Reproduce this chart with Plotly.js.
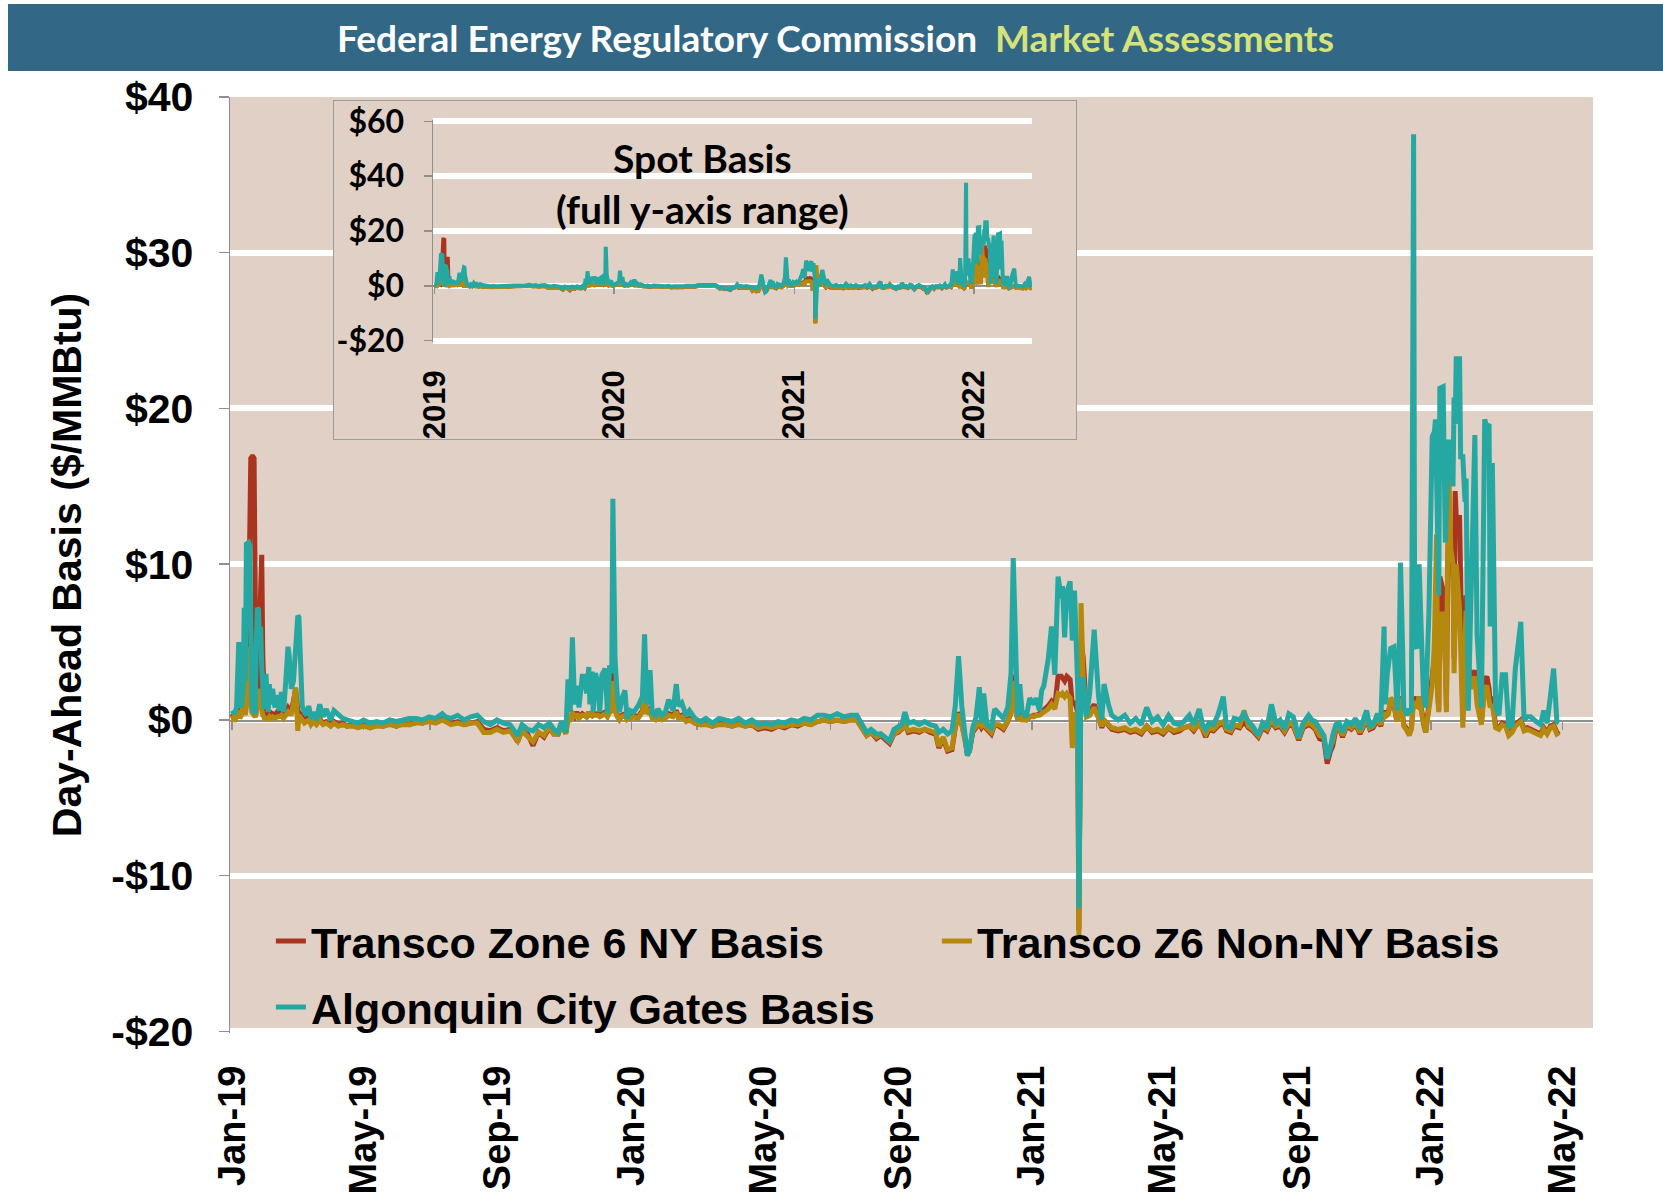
<!DOCTYPE html>
<html><head><meta charset="utf-8">
<script src="https://cdn.plot.ly/plotly-3.0.1.min.js"></script>
<style>
html,body{margin:0;padding:0;background:#fff;}
#wrap{position:relative;width:1663px;height:1201px;overflow:hidden;}
#main{position:absolute;left:0;top:0;width:1663px;height:1201px;}
#banner{position:absolute;left:8px;top:4px;width:1655px;height:67px;background:#326886;display:flex;align-items:center;justify-content:center;font-family:Lato,'Open Sans',sans-serif;font-weight:700;font-size:37px;white-space:pre;}
#inset{position:absolute;left:333px;top:100px;width:744px;height:340px;box-sizing:border-box;border:1.5px solid #9a9a9a;background:#E0D0C6;}
</style></head>
<body><div id="wrap"><div id="main"></div><div id="banner"><span style="color:#fff">Federal Energy Regulatory Commission</span><span style="color:#D6E27A">  Market Assessments</span></div><div id="inset"></div></div>
<script>
const dates = [
'2019-01-01','2019-01-03','2019-01-05','2019-01-07','2019-01-08','2019-01-09','2019-01-10','2019-01-11','2019-01-12','2019-01-13',
'2019-01-14','2019-01-15','2019-01-16','2019-01-17','2019-01-18','2019-01-19','2019-01-20','2019-01-21','2019-01-22','2019-01-23',
'2019-01-24','2019-01-25','2019-01-26','2019-01-27','2019-01-28','2019-01-29','2019-01-30','2019-01-31','2019-02-01','2019-02-02',
'2019-02-03','2019-02-04','2019-02-05','2019-02-07','2019-02-09','2019-02-11','2019-02-13','2019-02-15','2019-02-17','2019-02-19',
'2019-02-21','2019-02-22','2019-02-24','2019-02-26','2019-02-28','2019-03-02','2019-03-03','2019-03-04','2019-03-06','2019-03-08',
'2019-03-10','2019-03-12','2019-03-14','2019-03-16','2019-03-19','2019-03-22','2019-03-25','2019-03-28','2019-04-01','2019-04-04',
'2019-04-08','2019-04-12','2019-04-16','2019-04-21','2019-04-26','2019-05-01','2019-05-07','2019-05-13','2019-05-19','2019-05-25',
'2019-05-31','2019-06-06','2019-06-12','2019-06-18','2019-06-24','2019-06-30','2019-07-06','2019-07-12','2019-07-15','2019-07-20',
'2019-07-26','2019-08-01','2019-08-07','2019-08-13','2019-08-19','2019-08-25','2019-08-31','2019-09-06','2019-09-12','2019-09-19',
'2019-09-23','2019-09-28','2019-10-03','2019-10-08','2019-10-13','2019-10-18','2019-10-22','2019-10-26','2019-10-29','2019-11-02',
'2019-11-04','2019-11-06','2019-11-08','2019-11-10','2019-11-12','2019-11-14','2019-11-17','2019-11-19','2019-11-21','2019-11-23',
'2019-11-24','2019-11-26','2019-11-27','2019-11-29','2019-12-01','2019-12-03','2019-12-05','2019-12-08','2019-12-10','2019-12-12',
'2019-12-14','2019-12-15','2019-12-16','2019-12-17','2019-12-19','2019-12-21','2019-12-23','2019-12-26','2019-12-28','2019-12-31',
'2020-01-03','2020-01-07','2020-01-11','2020-01-13','2020-01-15','2020-01-18','2020-01-20','2020-01-23','2020-01-25','2020-01-29',
'2020-02-01','2020-02-04','2020-02-08','2020-02-11','2020-02-13','2020-02-16','2020-02-20','2020-02-23','2020-02-28','2020-03-04',
'2020-03-09','2020-03-15','2020-03-21','2020-03-27','2020-04-02','2020-04-08','2020-04-14','2020-04-20','2020-04-26','2020-05-02',
'2020-05-08','2020-05-14','2020-05-20','2020-05-26','2020-06-01','2020-06-07','2020-06-13','2020-06-19','2020-06-25','2020-07-01',
'2020-07-07','2020-07-13','2020-07-19','2020-07-25','2020-07-30','2020-08-03','2020-08-07','2020-08-12','2020-08-16','2020-08-20',
'2020-08-24','2020-08-28','2020-09-01','2020-09-04','2020-09-07','2020-09-10','2020-09-15','2020-09-20','2020-09-25','2020-09-30',
'2020-10-05','2020-10-08','2020-10-12','2020-10-16','2020-10-20','2020-10-23','2020-10-26','2020-10-29','2020-11-01','2020-11-03',
'2020-11-05','2020-11-08','2020-11-11','2020-11-14','2020-11-16','2020-11-18','2020-11-21','2020-11-25','2020-11-28','2020-12-02',
'2020-12-06','2020-12-10','2020-12-13','2020-12-15','2020-12-17','2020-12-19','2020-12-21','2020-12-23','2020-12-27','2020-12-30',
'2021-01-03','2021-01-05','2021-01-08','2021-01-10','2021-01-12','2021-01-16','2021-01-19','2021-01-22','2021-01-25','2021-01-28',
'2021-01-29','2021-01-31','2021-02-02','2021-02-05','2021-02-07','2021-02-09','2021-02-12','2021-02-13','2021-02-15','2021-02-17',
'2021-02-20','2021-02-23','2021-02-27','2021-03-03','2021-03-06','2021-03-08','2021-03-12','2021-03-15','2021-03-21','2021-03-27',
'2021-04-01','2021-04-06','2021-04-11','2021-04-16','2021-04-21','2021-04-26','2021-05-01','2021-05-06','2021-05-11','2021-05-16',
'2021-05-20','2021-05-25','2021-05-29','2021-06-03','2021-06-06','2021-06-09','2021-06-12','2021-06-16','2021-06-20','2021-06-25',
'2021-06-28','2021-07-02','2021-07-05','2021-07-10','2021-07-14','2021-07-18','2021-07-22','2021-07-27','2021-07-31','2021-08-04',
'2021-08-08','2021-08-12','2021-08-16','2021-08-20','2021-08-24','2021-08-28','2021-09-02','2021-09-06','2021-09-11','2021-09-14',
'2021-09-17','2021-09-21','2021-09-25','2021-09-28','2021-10-01','2021-10-03','2021-10-06','2021-10-09','2021-10-12','2021-10-16',
'2021-10-20','2021-10-24','2021-10-28','2021-11-01','2021-11-03','2021-11-06','2021-11-09','2021-11-13','2021-11-16','2021-11-19',
'2021-11-20','2021-11-22','2021-11-23','2021-11-25','2021-11-28','2021-11-30','2021-12-01','2021-12-03','2021-12-04','2021-12-06',
'2021-12-07','2021-12-10','2021-12-12','2021-12-14','2021-12-16','2021-12-17','2021-12-19','2021-12-21','2021-12-23','2021-12-25',
'2021-12-27','2021-12-30','2022-01-02','2022-01-04','2022-01-05','2022-01-06','2022-01-07','2022-01-08','2022-01-09','2022-01-12',
'2022-01-14','2022-01-15','2022-01-16','2022-01-17','2022-01-19','2022-01-21','2022-01-22','2022-01-23','2022-01-24','2022-01-27',
'2022-01-28','2022-01-30','2022-02-01','2022-02-02','2022-02-04','2022-02-07','2022-02-10','2022-02-12','2022-02-16','2022-02-19',
'2022-02-21','2022-02-23','2022-02-24','2022-02-26','2022-03-01','2022-03-04','2022-03-07','2022-03-10','2022-03-13','2022-03-16',
'2022-03-19','2022-03-24','2022-03-27','2022-03-30','2022-04-02','2022-04-07','2022-04-11','2022-04-14','2022-04-17','2022-04-20',
'2022-04-23','2022-04-26','2022-04-28'
];
// Transco Zone 6 NY basis ($/MMBtu)
const nyBasis = [
0.4,0.1,0.5,0.8,0.3,0.4,0.6,0.9,0.6,0.5,
1.5,2.2,6.5,16.6,16.8,16.9,16.9,16.8,2.0,0.5,
0.8,1.8,6.0,10.6,10.6,4.0,0.8,0.4,0.5,0.3,
0.4,0.6,0.3,0.4,0.3,0.5,0.4,0.5,0.3,0.6,
0.8,0.7,0.6,1.2,2.0,0.6,0.5,0.3,0.2,0.0,
0.1,0.2,-0.1,0.0,-0.2,0.1,-0.2,-0.1,-0.3,-0.1,
-0.3,-0.2,-0.4,-0.3,-0.4,-0.3,-0.5,-0.3,-0.4,-0.2,
-0.4,-0.2,-0.3,-0.1,-0.2,0.0,-0.1,0.1,0.0,-0.2,
-0.1,-0.3,-0.2,-0.1,-0.6,-0.7,-0.5,-0.7,-0.6,-1.4,
-0.6,-0.9,-1.65,-0.8,-1.1,-0.5,-0.9,-0.9,-0.3,-0.8,
0.2,0.1,0.4,0.2,0.5,0.2,0.4,0.3,0.2,0.5,
0.3,0.5,0.3,0.4,0.4,0.3,0.4,0.5,0.3,0.6,
0.8,3.5,2.0,0.8,0.3,0.2,0.3,0.4,0.1,0.2,
0.3,0.2,0.6,1.6,0.5,0.7,0.2,0.1,0.3,0.1,
0.2,0.4,0.3,0.6,0.2,0.3,0.0,0.1,-0.2,-0.3,
-0.2,-0.4,-0.2,-0.3,-0.4,-0.2,-0.4,-0.3,-0.6,-0.5,
-0.6,-0.4,-0.5,-0.3,-0.4,-0.2,-0.3,-0.1,0.0,-0.1,
0.0,-0.1,0.0,0.0,-0.5,-1.0,-0.8,-1.2,-1.0,-1.3,
-1.5,-0.9,-0.8,-0.6,-0.3,-0.8,-0.7,-0.8,-0.6,-0.8,
-0.9,-1.8,-1.2,-2.0,-1.9,-0.5,0.5,-0.3,-1.2,-2.2,
-2.0,-0.8,-0.5,-0.2,-0.5,-0.3,-0.6,-0.9,-0.3,-0.4,
-0.6,-0.1,0.5,2.9,1.0,0.0,0.4,0.1,0.0,0.2,
0.3,0.3,0.4,0.5,0.6,0.9,1.2,0.9,2.8,2.8,
2.7,2.5,2.8,2.6,1.0,1.2,0.5,-13.5,5.0,4.0,
0.3,0.5,1.0,0.2,-0.5,0.0,-0.4,-0.6,-0.7,-0.6,
-0.8,-0.7,-0.9,-0.4,-0.8,-0.7,-0.9,-0.5,-0.8,-0.7,
-0.5,-0.4,-0.7,-0.2,-0.6,-1.1,-0.6,-0.7,-0.4,-0.2,
-0.7,-0.8,-0.4,-0.5,-0.1,-0.5,-0.7,-1.1,-0.5,-0.7,
-0.1,-0.5,-0.4,-0.8,-0.3,-0.4,-1.3,-0.5,-0.3,-0.4,
-0.6,-1.2,-1.3,-2.8,-2.0,-1.7,-0.6,-0.5,-1.1,-0.4,
-0.6,-0.3,-0.9,-0.2,0.0,-0.6,-0.5,0.0,-0.4,0.6,
0.3,0.4,0.5,1.2,1.0,0.2,0.0,0.8,1.5,0.3,
-0.3,-0.6,-0.9,-0.5,1.5,1.2,1.0,1.5,0.6,-0.3,
-0.8,1.0,2.5,4.0,6.0,9.0,2.0,0.6,9.2,8.3,
4.0,0.8,8.0,12.0,12.0,10.5,4.0,14.7,13.0,13.0,
9.0,0.0,6.0,8.0,3.5,2.5,3.2,1.5,-0.2,2.5,
2.8,2.0,1.0,1.5,-0.4,-0.5,-0.2,-0.3,-0.9,-0.7,
-0.3,0.0,-0.6,-0.5,-0.6,-0.8,-0.9,-0.5,-0.8,-0.4,
-0.3,-0.8,-0.7
];
// Transco Z6 Non-NY basis ($/MMBtu)
const nonNyBasis = [
0.3,-0.1,0.2,0.6,0.1,0.2,0.4,2.6,0.5,0.3,
0.9,4.7,3.0,2.0,1.0,0.5,0.4,0.3,0.2,0.4,
1.2,2.0,1.5,1.0,0.6,0.3,0.2,0.0,0.2,0.0,
0.1,0.2,0.1,0.2,0.1,0.2,0.2,0.3,0.1,0.3,
0.5,0.4,0.4,1.0,2.1,-0.7,0.3,0.2,0.0,-0.2,
-0.1,0.0,-0.3,-0.1,-0.3,0.0,-0.3,-0.2,-0.4,-0.2,
-0.4,-0.3,-0.4,-0.4,-0.5,-0.4,-0.5,-0.4,-0.4,-0.3,
-0.4,-0.3,-0.3,-0.2,-0.2,-0.1,-0.2,0.0,-0.1,-0.3,
-0.2,-0.3,-0.2,-0.2,-0.8,-0.8,-0.6,-0.8,-0.7,-1.35,
-0.7,-1.0,-1.4,-0.8,-1.0,-0.4,-0.9,-0.9,-0.3,-0.9,
0.0,0.0,0.5,0.1,0.4,0.1,0.3,0.3,0.2,0.5,
0.2,0.4,0.3,0.3,0.3,0.2,0.3,0.4,0.2,0.5,
0.6,2.5,1.5,0.6,0.2,0.0,0.2,0.3,0.0,0.1,
0.2,0.1,0.5,1.5,0.4,0.6,0.1,0.0,0.2,0.0,
0.1,0.3,0.2,0.5,0.1,0.2,-0.1,0.0,-0.2,-0.3,
-0.3,-0.4,-0.3,-0.3,-0.4,-0.3,-0.4,-0.3,-0.5,-0.4,
-0.5,-0.4,-0.4,-0.3,-0.3,-0.2,-0.3,-0.1,0.0,-0.1,
0.0,-0.1,0.0,0.0,-0.5,-1.0,-0.8,-1.1,-0.9,-1.2,
-1.4,-0.9,-0.7,-0.6,-0.3,-0.7,-0.6,-0.7,-0.6,-0.7,
-0.8,-1.7,-1.1,-1.9,-1.8,-0.4,0.4,-0.3,-1.2,-2.1,
-1.9,-0.7,-0.4,-0.2,-0.4,-0.3,-0.5,-0.8,-0.3,-0.3,
-0.5,-0.1,0.4,2.5,0.9,0.0,0.3,0.0,0.0,0.2,
0.2,0.3,0.3,0.4,0.5,0.7,1.0,0.7,1.7,1.6,
1.7,1.5,1.7,1.4,-1.8,0.5,-1.0,-13.8,7.5,2.6,
0.2,0.3,0.8,0.1,-0.4,0.0,-0.3,-0.5,-0.6,-0.5,
-0.7,-0.6,-0.8,-0.4,-0.7,-0.6,-0.8,-0.5,-0.7,-0.6,
-0.5,-0.4,-0.6,-0.2,-0.6,-0.9,-0.5,-0.6,-0.3,-0.1,
-0.6,-0.7,-0.3,-0.4,0.6,-0.4,-0.6,-1.0,-0.4,-0.6,
0.0,-0.4,-0.3,-0.7,-0.2,-0.3,-1.2,-0.4,-0.2,-0.3,
-0.5,-1.0,-1.1,-2.3,-1.7,-1.4,-0.5,-0.4,-1.0,-0.3,
-0.5,-0.2,-0.8,-0.1,0.1,-0.5,-0.4,0.1,-0.3,0.5,
0.2,0.3,0.4,1.4,1.2,0.1,-0.1,0.8,1.4,0.2,
-0.4,-0.7,-1.0,-0.6,1.2,1.0,0.9,1.5,0.5,-0.3,
-0.8,1.0,2.2,5.0,8.0,11.9,1.5,0.5,6.8,6.8,
3.5,0.5,10.0,16.5,11.0,10.0,3.0,8.0,10.0,7.1,
5.0,-0.5,5.0,7.0,3.0,2.0,2.8,1.0,-0.3,2.0,
2.2,1.5,0.8,1.0,-0.5,-0.6,-0.3,-0.4,-1.0,-0.8,
-0.4,-0.1,-0.7,-0.6,-0.7,-0.9,-1.0,-0.6,-0.9,-0.5,
-0.4,-0.9,-0.8
];
// Algonquin City Gates basis ($/MMBtu)
const algonquinBasis = [
0.6,0.4,0.8,5.0,1.5,0.8,1.2,2.0,7.2,2.5,
11.3,11.4,11.4,11.2,5.0,1.0,0.6,0.5,0.4,4.8,
7.2,7.1,5.0,6.0,3.5,1.2,0.7,2.8,2.8,1.5,
0.5,2.3,1.0,2.0,0.8,1.6,0.6,1.8,0.5,2.5,
4.7,4.2,2.0,2.5,5.0,6.7,6.6,4.0,0.9,0.5,
0.3,0.9,0.1,0.5,0.0,1.0,0.2,0.7,0.0,0.6,
0.3,0.1,0.0,-0.1,-0.2,0.0,-0.2,-0.1,-0.2,0.0,
-0.1,0.0,0.1,0.1,0.0,0.2,0.1,0.4,0.2,0.1,
0.3,0.0,0.2,0.3,-0.1,-0.3,0.0,-0.2,-0.3,-1.0,
-0.3,-0.6,-0.7,-0.3,-0.5,-0.2,-0.6,-0.8,-0.1,-0.8,
2.6,0.5,5.3,1.0,2.2,0.8,2.8,2.8,1.7,3.4,
1.0,3.1,0.5,3.0,2.5,0.5,2.9,3.3,0.4,3.5,
3.0,14.2,9.0,3.9,1.6,0.5,1.3,1.9,0.1,0.6,
0.5,0.9,1.5,5.5,1.0,3.2,0.4,0.3,0.7,0.3,
0.5,1.3,0.6,2.3,0.9,1.1,0.3,0.6,0.1,-0.1,
0.1,-0.2,0.1,0.0,-0.1,0.1,-0.2,0.0,-0.3,-0.2,
-0.3,-0.1,-0.2,0.0,-0.1,0.1,0.0,0.3,0.3,0.2,
0.4,0.2,0.3,0.3,-0.3,-0.8,-0.6,-0.9,-0.9,-1.1,
-1.35,-0.6,-0.4,-0.3,0.5,-0.2,-0.1,-0.3,-0.1,-0.3,
-0.4,-0.8,-0.6,-0.9,-0.7,0.9,4.1,0.9,-1.0,-2.3,
-2.0,-0.5,0.2,2.1,-0.2,1.7,-0.3,-0.5,0.7,0.4,
0.1,0.8,3.0,10.4,4.6,0.2,2.3,0.6,0.2,1.4,
1.0,1.4,0.6,1.9,2.2,3.9,6.0,2.9,9.2,7.8,
8.6,5.3,8.2,8.9,5.1,8.3,2.0,-12.1,2.6,2.6,
0.2,1.8,5.8,1.5,0.0,2.3,1.0,0.3,0.0,0.3,
-0.2,0.1,-0.3,0.8,-0.1,0.2,-0.3,0.3,-0.2,-0.3,
-0.1,0.3,-0.3,0.7,-0.3,-0.6,-0.2,-0.3,0.3,1.5,
-0.4,-0.5,0.1,0.0,0.4,-0.1,-0.4,-1.0,-0.2,-0.5,
1.0,-0.2,0.0,-0.6,0.4,0.2,-1.1,-0.2,0.3,0.0,
-0.1,-0.6,-1.0,-2.5,-1.8,-1.0,-0.3,-0.2,-0.8,-0.1,
-0.3,0.1,-0.6,0.2,0.6,-0.4,-0.3,0.4,-0.1,6.0,
1.0,3.0,3.5,4.6,4.7,1.0,0.6,5.0,10.1,4.5,
0.8,0.3,0.7,0.5,37.6,4.8,4.6,10.0,4.8,1.5,
0.8,6.9,18.2,18.5,19.3,15.0,12.4,8.0,21.3,21.4,
11.4,14.0,17.4,18.0,16.7,15.0,20.7,19.0,23.2,23.2,
16.9,16.9,14.0,15.5,0.6,9.0,18.3,5.5,0.8,19.3,
18.8,19.0,6.0,16.5,0.8,0.3,2.9,2.9,-0.5,-0.3,
3.3,6.3,0.0,0.2,0.2,-0.1,-0.3,0.6,-0.2,1.5,
3.3,-0.1,-0.2
];
const seriesNames = ['Transco Zone 6 NY Basis', 'Transco Z6 Non-NY Basis', 'Algonquin City Gates Basis'];
const seriesColors = ['#A93521', '#B5880E', '#25A8A2'];
const seriesLegends = ['legend', 'legend', 'legend2'];
const mainYTicks = [-20, -10, 0, 10, 20, 30, 40];
const mainYTickText = ['-$20', '-$10', '$0', '$10', '$20', '$30', '$40'];
const insetYTicks = [-20, 0, 20, 40, 60];
const insetYTickText = ['-$20', '$0', '$20', '$40', '$60'];
const yAxisTitle = 'Day-Ahead Basis ($/MMBtu)';
const insetTitle = 'Spot Basis<br>(full y-axis range)';

const seriesValues = [nyBasis, nonNyBasis, algonquinBasis];
const GRAY = '#8f8f8f';
const BG = '#E0D0C6';
const arialB = {family: '"Liberation Sans", Arial, sans-serif', color: '#000', weight: 'bold'};
const latoB = {family: 'Lato, "Open Sans", sans-serif', color: '#000', weight: 'bold'};

function traces(width, overlayAxis) {
  const t = seriesValues.map((v, i) => ({
    type: 'scatter', mode: 'lines', x: dates, y: v, name: seriesNames[i], legend: seriesLegends[i],
    line: {color: seriesColors[i], width: width}, hoverinfo: 'skip'
  }));
  t.push({type: 'scatter', mode: 'lines', x: dates, y: nyBasis, xaxis: overlayAxis,
    line: {color: 'rgba(0,0,0,0)', width: 0}, showlegend: false, hoverinfo: 'skip'});
  return t;
}

const legendFont = Object.assign({}, arialB, {size: 43});
const mainRange = ['2018-12-30', '2022-05-29'];
const mainLayout = {
  width: 1663, height: 1201,
  margin: {l: 230, r: 70, t: 97, b: 168},
  paper_bgcolor: 'rgba(0,0,0,0)', plot_bgcolor: BG,
  hovermode: false, showlegend: true,
  legend: {orientation: 'h', x: 0.03, xanchor: 'left', y: 0.135, yanchor: 'top',
    font: legendFont, bgcolor: 'rgba(0,0,0,0)',
    entrywidth: 621, entrywidthmode: 'pixels', traceorder: 'normal'},
  legend2: {orientation: 'h', x: 0.03, xanchor: 'left', y: 0.0645, yanchor: 'top',
    font: legendFont, bgcolor: 'rgba(0,0,0,0)'},
  xaxis: {type: 'date', range: mainRange, tick0: '2019-01-01', dtick: 'M4', tickformat: '%b-%y',
    tickangle: -90, tickfont: Object.assign({}, arialB, {size: 38}), ticks: '',
    showgrid: false, showline: false, zeroline: false, ticklabelstandoff: 24},
  xaxis3: {type: 'date', overlaying: 'x', anchor: 'free', position: 1/3, range: mainRange,
    tick0: '2019-01-01', dtick: 'M2', showticklabels: false, ticks: 'outside', ticklen: 8,
    tickwidth: 1.5, tickcolor: GRAY, showline: true, linecolor: GRAY, linewidth: 2,
    showgrid: false, zeroline: false, layer: 'below traces'},
  yaxis: {range: [-20.1, 40], tickvals: mainYTicks, ticktext: mainYTickText,
    tickfont: Object.assign({}, arialB, {size: 41}), ticks: 'outside', ticklen: 10, tickwidth: 1.5,
    tickcolor: GRAY, showline: true, linecolor: GRAY, linewidth: 1.5, ticklabeloverflow: 'allow',
    gridcolor: '#fff', gridwidth: 6, zeroline: false, ticklabelstandoff: 17,
    title: {text: yAxisTitle, font: Object.assign({}, arialB, {size: 41}), standoff: 17}}
};
Plotly.newPlot('main', traces(5, 'x3'), mainLayout, {displayModeBar: false, staticPlot: true});

const insetRange = ['2018-12-29', '2022-04-29'];
const insetLayout = {
  width: 741, height: 337,
  margin: {l: 99, r: 43, t: 19, b: 96},
  paper_bgcolor: BG, plot_bgcolor: BG, hovermode: false, showlegend: false,
  xaxis: {type: 'date', range: insetRange, tick0: '2019-01-01', dtick: 'M12', tickformat: '%Y',
    tickangle: -90, tickfont: Object.assign({}, arialB, {size: 31}), ticks: '',
    showgrid: false, showline: false, zeroline: false, ticklabelstandoff: 21},
  xaxis2: {type: 'date', overlaying: 'x', anchor: 'free', position: 0.2531, range: insetRange,
    tick0: '2019-01-01', dtick: 'M12', showticklabels: false, ticks: 'outside', ticklen: 7,
    tickwidth: 1.5, tickcolor: GRAY, showline: true, linecolor: GRAY, linewidth: 2,
    showgrid: false, zeroline: false, layer: 'below traces'},
  yaxis: {range: [-20.5, 60.5], tickvals: insetYTicks, ticktext: insetYTickText,
    tickfont: Object.assign({}, latoB, {size: 32}), ticks: 'outside', ticklen: 8, tickwidth: 1.5,
    tickcolor: GRAY, showline: true, linecolor: GRAY, linewidth: 1.5, ticklabeloverflow: 'allow',
    gridcolor: '#fff', gridwidth: 6, zeroline: false, ticklabelstandoff: 13},
  annotations: [{xref: 'paper', yref: 'paper', x: 0.45, y: 0.712, yanchor: 'middle', text: insetTitle,
    showarrow: false, font: Object.assign({}, latoB, {size: 39})}]
};
Plotly.newPlot('inset', traces(4, 'x2'), insetLayout, {displayModeBar: false, staticPlot: true});
</script>
</body></html>
